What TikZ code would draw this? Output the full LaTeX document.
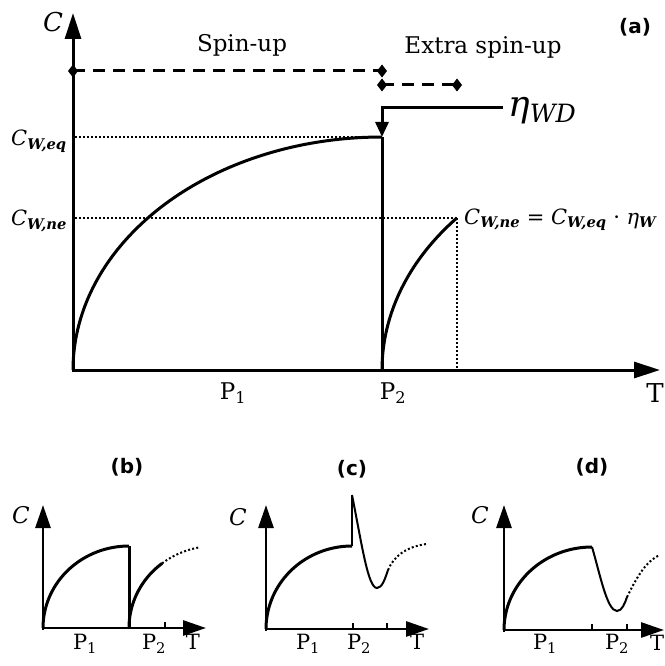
\RequirePackage{fix-cm}
\documentclass[tikz,border=0pt]{standalone}
\usepackage{fontspec}
\setmainfont{DejaVu Serif}
\newfontfamily\labfont{DejaVu Sans}
\usetikzlibrary{arrows.meta,calc}
\newcommand\CW[1]{{\itshape C}\textsubscript{\bfseries\itshape W,#1}}
\newcommand\Pn[1]{P\textsubscript{#1}}
\tikzset{
  bigaxis/.style={line width=3pt, -{Triangle[length=26pt,width=16pt]}},
  smallaxis/.style={line width=2.8pt, -{Triangle[length=23pt,width=15pt]}},
  curve/.style={line width=3pt, line join=round},
  thincurve/.style={line width=2pt},
  dotln/.style={line width=2pt, dash pattern=on 2pt off 2pt},
  dotcurve/.style={line width=2pt, dash pattern=on 2pt off 2.2pt},
  dashln/.style={line width=3pt, dash pattern=on 12pt off 8pt},
  tick/.style={line width=2pt},
  panlab/.style={font=\labfont\bfseries\fontsize{20}{22}\selectfont},
  big/.style={font=\fontsize{23}{27}\selectfont},
  mid/.style={font=\fontsize{21}{25}\selectfont},
  plab/.style={font=\fontsize{23}{27}\selectfont},
  sm/.style={font=\fontsize{21}{24}\selectfont},
  smit/.style={font=\fontsize{23}{26}\selectfont\itshape},
  dmd/.style={fill=black}
}
\begin{document}
\begin{tikzpicture}[x=1pt,y=-1pt]
\useasboundingbox (0,0) rectangle (664,666);
% ---------------- panel (a)
\draw[bigaxis] (73,371.5) -- (73,13);
\draw[bigaxis] (71.5,370) -- (660,370);
\node[font=\fontsize{26}{30}\selectfont\itshape] (aC) at (53,22) {C};
\node[font=\fontsize{26}{30}\selectfont] (aT) at (655,393) {T};
\node[plab] (aP1) at (233,393) {\Pn{1}};
\node[plab] (aP2) at (393,393) {\Pn{2}};
\node[big] (spin) at (242,45) {Spin-up};
\node[big] (xspin) at (483,47) {Extra spin-up};
\node[panlab] (la) at (635,27) {(a)};
% dashed ranges
\coordinate (d1a) at (73,71);
\coordinate (d1b) at (382,71);
\coordinate (d2a) at (382,85);
\coordinate (d2b) at (457,85);
\draw[dashln] (d1a) -- (d1b);
\draw[dashln] (d2a) -- (d2b);
\foreach \p in {d1a,d1b,d2a,d2b}{
  \fill[dmd] ($(\p)+(-5,0)$) -- ($(\p)+(0,-6.5)$) -- ($(\p)+(5,0)$) -- ($(\p)+(0,6.5)$) -- cycle;
}
% eta arrow
\coordinate (etaS) at (503,108);
\coordinate (etaK) at (382,108);
\coordinate (top) at (382,137);
\coordinate (bot) at (382,370);
\draw[line width=3pt, -{Triangle[length=15pt,width=13pt]}] (etaS) -- (etaK) -- (top);
\node[font=\fontsize{36}{40}\selectfont\itshape, anchor=base west, inner sep=0pt] (eta) at (508,117) {η\textsubscript{WD}};
% dotted guides
\coordinate (eqL) at (75,137);
\coordinate (neL) at (75,218);
\coordinate (neR) at (457,218);
\coordinate (neB) at (457,370);
\draw[dotln] (eqL) -- (top);
\draw[dotln] (neL) -- (neR);
\draw[dotln] (neR) -- (neB);
\node[mid, inner sep=0pt] (ceq) at (39,141) {\CW{eq}};
\node[mid, inner sep=0pt] (cne) at (39,221) {\CW{ne}};
\node[mid, anchor=base west, inner sep=0pt] (form) at (464,224) {\CW{ne} = \CW{eq} · {\itshape η}\textsubscript{\bfseries\itshape W}};
% curves
\draw[curve] plot[domain=0:90,samples=80] ({382-309*cos(\x)},{370-233*sin(\x)});
\draw[curve] (top) -- (bot);
\draw[curve] plot[domain=0:40.7,samples=50] ({691-309*cos(\x)},{370-233*sin(\x)});
% ---------------- panel (b)
\draw[smallaxis] (43,629.5) -- (43,505);
\draw[smallaxis] (41.5,628) -- (206,628);
\draw[tick] (165,628) -- (165,622);
\node[smit] (bC) at (21,515) {C};
\node[sm] (bT) at (193,642) {T};
\node[sm] (bP1) at (85,644) {\Pn{1}};
\node[sm] (bP2) at (154,644) {\Pn{2}};
\node[panlab] (lb) at (127,467) {(b)};
\draw[curve] plot[domain=0:90,samples=50] ({129-86*cos(\x)},{628-82*sin(\x)});
\draw[curve] (129,546) -- (129,628);
\draw[curve] plot[domain=0:52,samples=30] ({215-86*cos(\x)},{628-82*sin(\x)});
\draw[dotcurve] plot[domain=52:80,samples=20] ({215-86*cos(\x)},{628-82*sin(\x)});
% ---------------- panel (c)
\draw[smallaxis] (266,630.5) -- (266,505);
\draw[smallaxis] (264.5,629) -- (429,629);
\draw[tick] (353,629) -- (353,623);
\draw[tick] (387,629) -- (387,623);
\node[smit] (cC) at (238,517) {C};
\node[sm] (cT) at (417,642) {T};
\node[sm] (cP1) at (308,644) {\Pn{1}};
\node[sm] (cP2) at (359,644) {\Pn{2}};
\node[panlab] (lc) at (352,469) {(c)};
\draw[curve] plot[domain=0:90,samples=50] ({352-86*cos(\x)},{629-83*sin(\x)});
\draw[line width=2.5pt] (352,546) -- (352,495);
\draw[thincurve] (352,495) .. controls (362,545) and (368,588) .. (377,588)
   .. controls (382,588) and (385,579) .. (388,570);
\draw[dotcurve] (388,570) .. controls (394,556) and (406,547) .. (426,544);
% ---------------- panel (d)
\draw[smallaxis] (504,631.5) -- (504,505);
\draw[smallaxis] (502.5,630) -- (664,630);
\draw[tick] (592,630) -- (592,624);
\draw[tick] (627,630) -- (627,624);
\node[smit] (dC) at (480,515) {C};
\node[sm] (dT) at (657,643) {T};
\node[sm] (dP1) at (545,644) {\Pn{1}};
\node[sm] (dP2) at (617,644) {\Pn{2}};
\node[panlab] (ld) at (592,467) {(d)};
\draw[curve] plot[domain=0:90,samples=50] ({592-88*cos(\x)},{630-83*sin(\x)});
\draw[thincurve] (592,547) .. controls (600,574) and (607,611) .. (617,611)
   .. controls (622,611) and (625,603) .. (627,597);
\draw[dotcurve] (627,597) .. controls (635,581) and (645,561) .. (660,555);
\end{tikzpicture}
\end{document}
